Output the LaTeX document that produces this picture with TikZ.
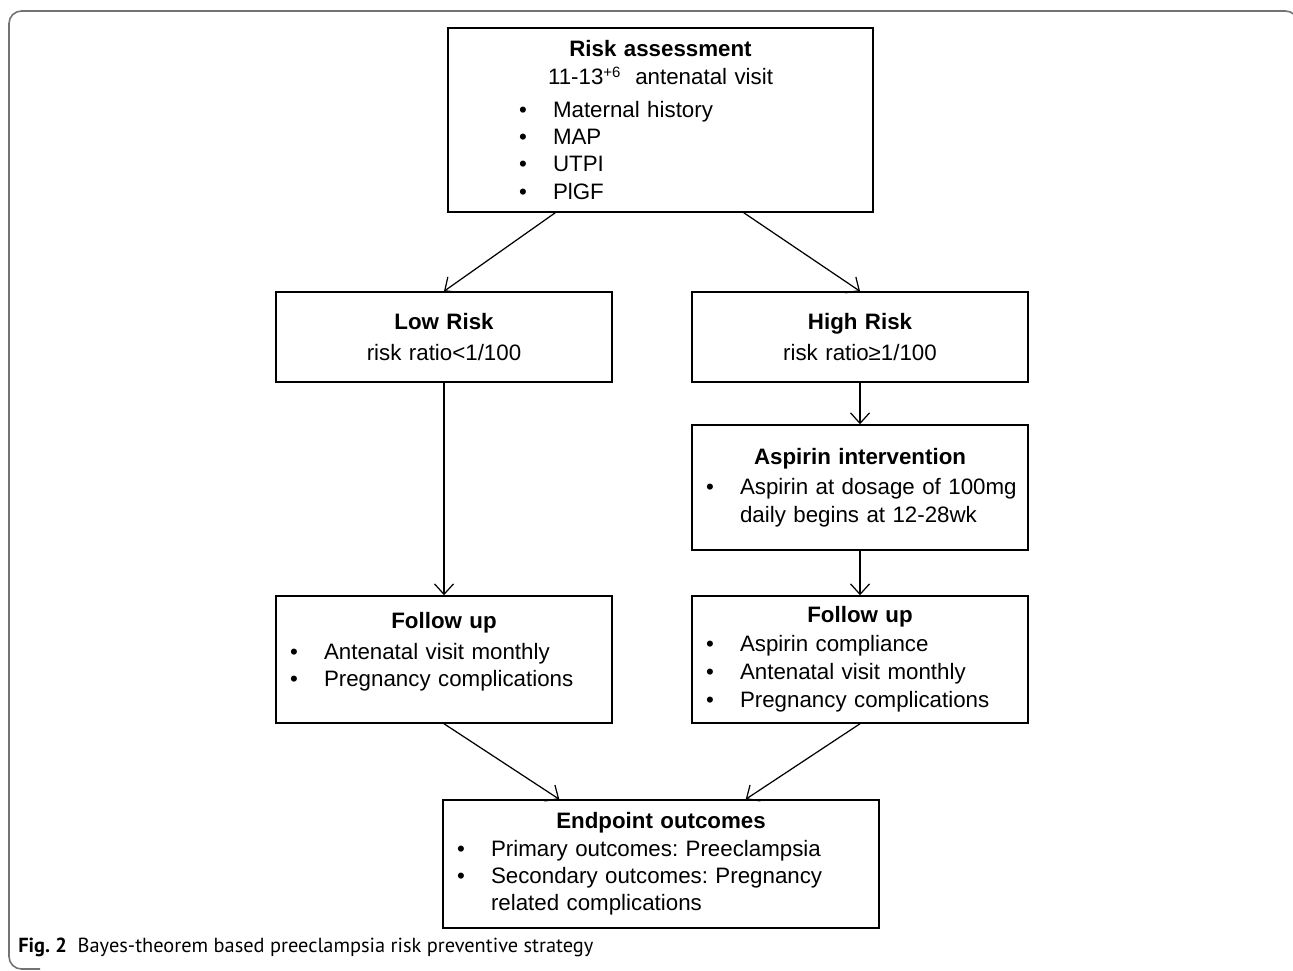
\documentclass[tikz,border=0pt]{standalone}
\usepackage{fontspec}
\setmainfont{Liberation Sans}
\newfontfamily\capfont{PT Sans}
\usetikzlibrary{positioning, arrows.meta}
\tikzset{
	box/.style={draw, line width=0.85pt, inner sep=0pt, align=left, font=\fontsize{12.7pt}{15.5pt}\selectfont}, % every framed step of the strategy
	arr/.style={-{Straight Barb[length=2.1mm, width=3.8mm]}, line width=0.7pt}, % thin open arrow heads
}
\newcommand{\boxhead}[1]{\makebox[\linewidth]{\bfseries #1}}
\newcommand{\boxitem}[2][0.28cm]{\hspace*{#1}\makebox[0.68cm][l]{\textbullet}#2}
\frenchspacing

\begin{document}
\begin{tikzpicture}[x=0.02cm, y=-0.02cm]
	\useasboundingbox (0,0) rectangle (1293,970);
	% frame of the figure
	\draw[black!55, line width=0.9pt, rounded corners=0.25cm] (40,969) -- (9,969) -- (9,11) -- (1298,11) -- (1298,60);

	% boxes
	\node[box, minimum width=8.5cm, text width=8.5cm, minimum height=3.68cm] (ra) at (660.5,120)
		{\boxhead{Risk assessment}\\
		 \makebox[\linewidth]{11-13\raisebox{0.55ex}{\fontsize{8.5pt}{9pt}\selectfont+6}\ \ antenatal visit}\\[0.12cm]
		 \boxitem[1.42cm]{Maternal history}\\
		 \boxitem[1.42cm]{MAP}\\
		 \boxitem[1.42cm]{UTPI}\\
		 \boxitem[1.42cm]{PlGF}};
	\node[box, minimum width=6.72cm, text width=6.72cm, minimum height=1.8cm] (lr) at (444,337)
		{\boxhead{Low Risk}\\[0.08cm]
		 \makebox[\linewidth]{risk ratio<1/100}};
	\node[box, minimum width=6.72cm, text width=6.72cm, minimum height=1.8cm] (hr) at (860,337)
		{\boxhead{High Risk}\\[0.08cm]
		 \makebox[\linewidth]{risk ratio≥1/100}};
	\node[box, minimum width=6.72cm, text width=6.72cm, minimum height=2.5cm] (ai) at (860,487.5)
		{\boxhead{Aspirin intervention}\\[0.06cm]
		 \boxitem{Aspirin at dosage of 100mg}\\
		 \hspace*{0.96cm}daily begins at 12-28wk};
	\node[box, minimum width=6.72cm, text width=6.72cm, minimum height=2.54cm] (fl) at (444,659.5)
		{\boxhead{Follow up}\\[0.06cm]
		 \boxitem{Antenatal visit monthly}\\
		 \boxitem{Pregnancy complications}\\[-0.15cm]\mbox{}};
	\node[box, minimum width=6.72cm, text width=6.72cm, minimum height=2.54cm,
		font=\fontsize{12.7pt}{16.2pt}\selectfont] (fr) at (860,659.5)
		{\boxhead{Follow up}\\
		 \boxitem{Aspirin compliance}\\
		 \boxitem{Antenatal visit monthly}\\
		 \boxitem{Pregnancy complications}};
	\node[box, minimum width=8.72cm, text width=8.72cm, minimum height=2.56cm] (eo) at (661,864)
		{\boxhead{Endpoint outcomes}\\
		 \boxitem{Primary outcomes: Preeclampsia}\\
		 \boxitem{Secondary outcomes: Pregnancy}\\
		 \hspace*{0.96cm}related complications};

	% arrows
	\draw[arr] ([xshift=2.16cm]ra.south west) -- (lr.north);
	\draw[arr] ([xshift=-2.6cm]ra.south east) -- (hr.north);
	\draw[arr] (lr.south) -- (fl.north);
	\draw[arr] (hr.south) -- (ai.north);
	\draw[arr] (ai.south) -- (fr.north);
	\draw[arr] (fl.south) -- ([xshift=2.34cm]eo.north west);
	\draw[arr] (fr.south) -- ([xshift=-2.68cm]eo.north east);

	% caption
	\node[anchor=base west, inner sep=0pt, font=\capfont\fontsize{11.6pt}{13pt}\selectfont] (cap) at (18,952)
		{\textbf{Fig. 2}\ \ Bayes-theorem based preeclampsia risk preventive strategy};
\end{tikzpicture}
\end{document}
